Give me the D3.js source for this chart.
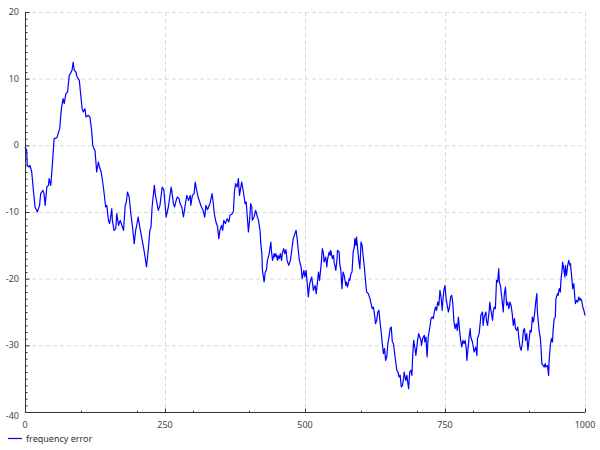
<!DOCTYPE html>
<html>
<head>
<meta charset="utf-8">
<script src="https://cdn.jsdelivr.net/npm/d3@7"></script>
<style>
  html, body { margin: 0; padding: 0; background: #fff; }
  svg { display: block; font-family: "Noto Sans", "DejaVu Sans", sans-serif; }
</style>
</head>
<body>
<svg id="chart" width="600" height="450"></svg>
<script>
// ---- data ----
const seriesName = "frequency error";
const steps = [0,3,4,7,9,12,15,18,22,26,28,32,34,36,39,42,43,46,49,52,57,60,62,65,68,70,73,76,79,81,84,86,88,91,93,97,99,102,104,107,109,113,116,119,121,123,
125,128,131,133,136,140,144,146,149,151,153,155,156,159,162,164,167,170,174,176,179,181,183,186,189,192,195,198,199,202,204,206,211,214,217,220,223,225,227,231,233,238,241,245,248,252,256,261,
262,265,267,270,272,275,277,280,283,286,289,292,295,296,299,302,304,306,309,312,315,318,321,323,326,330,331,334,336,338,341,344,346,348,351,353,355,358,361,364,366,370,372,374,376,379,381,383,385,387,390,393,
395,397,399,401,403,405,406,409,411,412,415,417,420,421,423,424,427,429,431,433,436,439,440,442,445,446,448,451,452,454,456,458,460,462,464,466,468,471,474,476,479,482,484,486,488,490,493,495,498,500,502,504,506,508,510,512,515,518,520,522,524,526,
529,531,533,534,537,539,540,543,545,546,549,551,552,555,557,558,561,562,564,566,568,570,573,574,576,579,580,582,584,586,588,589,591,592,594,596,598,600,602,604,606,608,610,613,616,
618,620,622,624,626,628,630,632,634,636,638,640,642,644,646,648,650,652,654,656,658,660,662,664,666,668,670,672,674,676,677,680,682,683,685,687,689,691,692,694,696,698,699,701,703,705,
707,708,710,713,714,716,718,720,722,723,725,727,729,731,733,735,737,739,741,743,745,746,748,750,752,754,756,758,760,762,764,766,768,770,772,774,776,778,780,782,784,786,788,789,792,793,
795,796,799,801,802,805,807,808,811,813,814,817,818,820,823,824,826,829,830,832,835,836,838,840,842,844,846,847,849,851,852,854,856,858,860,862,864,866,868,870,872,874,876,878,880,882,884,886,888,890,892,894,896,898,900,902,904,906,908,910,912,914,915,918,
920,921,923,925,927,929,930,933,935,936,938,940,942,943,945,947,948,951,952,954,956,957,959,960,962,964,965,967,969,971,973,974,976,978,980,982,983,985,987,989,991,992,994,996,998,1000];
const errors = [-0.25,-0.75,-3,-3.25,-3,-4,-6.75,-9.25,-10,-9,-7.25,-6.75,-7.25,-9,-6.25,-6,-5,-6,-2.75,1,1.15,2,2.5,5.5,7,6.25,7.75,8,10.5,10.75,11.25,12.5,11.25,11,10.25,9.75,8,5.5,5,5.5,4.25,4.5,4.25,2.25,0,-0.5,
-0.75,-4,-2.5,-3.25,-4,-6.25,-9.25,-9,-11.25,-11.75,-10.75,-9.5,-11.25,-12.75,-12.5,-10.25,-12,-11.25,-12.25,-12.75,-9,-8.5,-7,-7.75,-10.25,-12.25,-14.75,-12.5,-12.25,-10.75,-11.75,-12.75,-15,-16.5,-18.25,-15.75,-12.75,-12.25,-9.25,-6,-7.5,-9.75,-9,-6.25,-6.75,-10.75,-9.25,-6.25,
-6.75,-8.75,-9.25,-8.25,-7.75,-8,-8.75,-9.25,-10.75,-9,-7.5,-8.25,-7.5,-9,-7.5,-7.25,-5.5,-6.5,-7.75,-8.5,-9.25,-9.75,-10.75,-9,-9.65,-8.75,-8.5,-7.25,-8.5,-10.25,-11.5,-12.25,-14,-12.75,-12,-12.75,-11.25,-11.75,-11,-11.5,-10.5,-10.25,-10,-7,-5.75,-6.25,-5,-7.5,-6.5,-5.5,-7,-8.75,
-8.5,-10.75,-13,-11.25,-8.75,-9.25,-11.25,-10.75,-10,-9.75,-10.75,-11.25,-13,-14.75,-16.25,-18.75,-20.5,-19,-18.75,-17.25,-16.25,-14.5,-15.75,-17.25,-16.25,-16.75,-16.25,-17.25,-16.5,-17,-16.25,-17.25,-16,-15.5,-16.25,-15.65,-17.25,-18,-17.25,-16,-14,-13.25,-12.75,-14,-15.75,-17.25,-18.25,-20,-18.75,-19.75,-18.75,-20.75,-22.75,-21,-20.25,-19.75,-21.75,-21,-22.25,-20.75,-19,-20.25,
-17.75,-15.5,-16.25,-17.5,-16.75,-18.25,-17.25,-16,-16.5,-15.75,-17,-16.5,-17.5,-18.75,-17.25,-15.75,-16,-17.75,-18.75,-21.5,-19,-19.5,-21,-20.5,-21.25,-20,-20.25,-19.25,-19,-16,-15.25,-14,-15,-13.75,-15.5,-17.25,-18.5,-14.5,-15,-16.75,-18.25,-20.25,-22,-22.25,-23,
-23.75,-24.5,-24.25,-25.25,-26.75,-26.25,-25,-24.75,-26.5,-28,-29.75,-31.25,-30.5,-32.25,-31.75,-29.75,-28.75,-27.5,-27.25,-29.5,-29.75,-31.25,-32.5,-33.75,-34,-34.75,-34.5,-36.25,-36,-35,-34,-35.25,-34.5,-35.25,-36.5,-34,-33.75,-34.5,-32,-29.25,-30.25,-31.5,-30.75,-29.25,-28.25,-28.75,
-29.25,-30,-29,-28.5,-29.5,-28.75,-31.75,-28.75,-27.75,-27.25,-26,-25.75,-26,-25,-24.25,-24.75,-23.5,-24,-21.75,-22.75,-24.75,-23.5,-21.75,-21,-23,-24,-25,-24.25,-22.75,-22.5,-23.75,-26.5,-27.5,-26.75,-27.75,-25.75,-27.75,-29.25,-30.25,-29.25,-29.75,-29.25,-30.5,-32.25,-29.75,-28.75,
-27.5,-28.75,-29.5,-30.5,-31,-30.25,-31.5,-29,-28.25,-26.5,-25.5,-25,-27,-25.75,-25,-26.25,-27,-24.75,-23.5,-24.75,-26.25,-25,-24.25,-24.5,-20.25,-20.5,-18.5,-20.5,-21,-22.5,-23.25,-25,-22.25,-21.25,-24,-23.5,-24.5,-23.5,-24,-25.25,-27,-26,-27.5,-27.75,-27.25,-29,-30.25,-30.75,-29.75,-27.75,-27.5,-29.25,-28.25,-30.75,-29.25,-27.75,-28,-25.75,-26.5,-25.25,-23.5,-22.25,-25,-27.75,
-28.75,-29.75,-32.75,-33,-33.25,-32.75,-33.25,-33,-34.5,-32.25,-30,-29,-29.5,-27.75,-26,-25.75,-23,-22.25,-22.5,-21.5,-22,-20.25,-18.75,-17.5,-18.5,-19.75,-18,-19.5,-18,-17.25,-18,-17.75,-19.5,-21.5,-20.75,-23,-23.75,-23.25,-23.5,-22.75,-23.25,-23,-23.25,-24.25,-24.75,-25.5];
const xTickValues = [0, 250, 500, 750, 1000];
const xMinorTicks = [100, 200, 300, 400, 600, 700, 800, 900];
const yTickValues = [-40, -30, -20, -10, 0, 10, 20];

// ---- chart ----
const svg = d3.select("#chart");
const plotL = 25, plotR = 585, plotT = 12, plotB = 412;
const x = d3.scaleLinear().domain([0, 1000]).range([plotL, plotR]);
const y = d3.scaleLinear().domain([-40, 20]).range([plotB, plotT]);
const yMinor = d3.range(-40, 21, 1).filter(v => v % 10 !== 0);

const grid = svg.append("g");
grid.selectAll("line.gx").data(xTickValues.filter(v => v > 0)).join("line")
  .attr("x1", d => x(d) + 0.5).attr("x2", d => x(d) + 0.5)
  .attr("y1", plotT).attr("y2", plotB)
  .attr("stroke", "#d9d9d9").attr("stroke-dasharray", "4,3");
grid.selectAll("line.gy").data(yTickValues.filter(v => v > -40)).join("line")
  .attr("x1", plotL).attr("x2", plotR)
  .attr("y1", d => y(d) + 0.5).attr("y2", d => y(d) + 0.5)
  .attr("stroke", "#d9d9d9").attr("stroke-dasharray", "4,3");

// y axis
const yAxis = svg.append("g").attr("transform", `translate(${plotL + 0.5},0)`)
  .call(d3.axisRight(y).tickValues(yTickValues).tickSize(4).tickFormat(""));
yAxis.select(".domain").attr("d", `M0,${plotT}V${plotB}`);
svg.append("g").attr("transform", `translate(${plotL + 0.5},0)`)
  .call(d3.axisRight(y).tickValues(yMinor).tickSize(2).tickFormat(""))
  .select(".domain").remove();
svg.append("g").selectAll("text").data(yTickValues).join("text")
  .attr("x", 19).attr("y", d => y(d) + (d === -40 ? 4 : 0)).attr("dy", "0.35em")
  .attr("text-anchor", "end").attr("font-size", 9).attr("fill", "#444")
  .text(d => d);

// x axis
const xAxis = svg.append("g").attr("transform", `translate(0,${plotB + 0.5})`)
  .call(d3.axisTop(x).tickValues(xTickValues).tickSize(4).tickFormat(""));
xAxis.select(".domain").attr("d", `M${plotL},0H${plotR}`);
svg.append("g").attr("transform", `translate(0,${plotB + 0.5})`)
  .call(d3.axisTop(x).tickValues(xMinorTicks).tickSize(2).tickFormat(""))
  .select(".domain").remove();
svg.append("g").selectAll("text").data(xTickValues).join("text")
  .attr("x", d => x(d)).attr("y", 425).attr("dy", "0.35em")
  .attr("text-anchor", "middle").attr("font-size", 9).attr("fill", "#444")
  .text(d => d);
svg.selectAll(".tick line, .domain").attr("stroke", "#333");

// series line
const pts = steps.map((s, i) => [s, errors[i]]);
svg.append("path").datum(pts)
  .attr("fill", "none").attr("stroke", "#0000ff").attr("stroke-width", 1.2)
  .attr("stroke-linejoin", "round")
  .attr("d", d3.line().x(d => x(d[0])).y(d => y(d[1])));

// legend
const lg = svg.append("g");
lg.append("line").attr("x1", 8).attr("x2", 22).attr("y1", 438.5).attr("y2", 438.5)
  .attr("stroke", "#0000ff").attr("stroke-width", 1.2);
lg.append("text").attr("x", 26).attr("y", 438.5).attr("dy", "0.35em")
  .attr("font-size", 9).attr("fill", "#333").text(seriesName);
</script>
</body>
</html>
